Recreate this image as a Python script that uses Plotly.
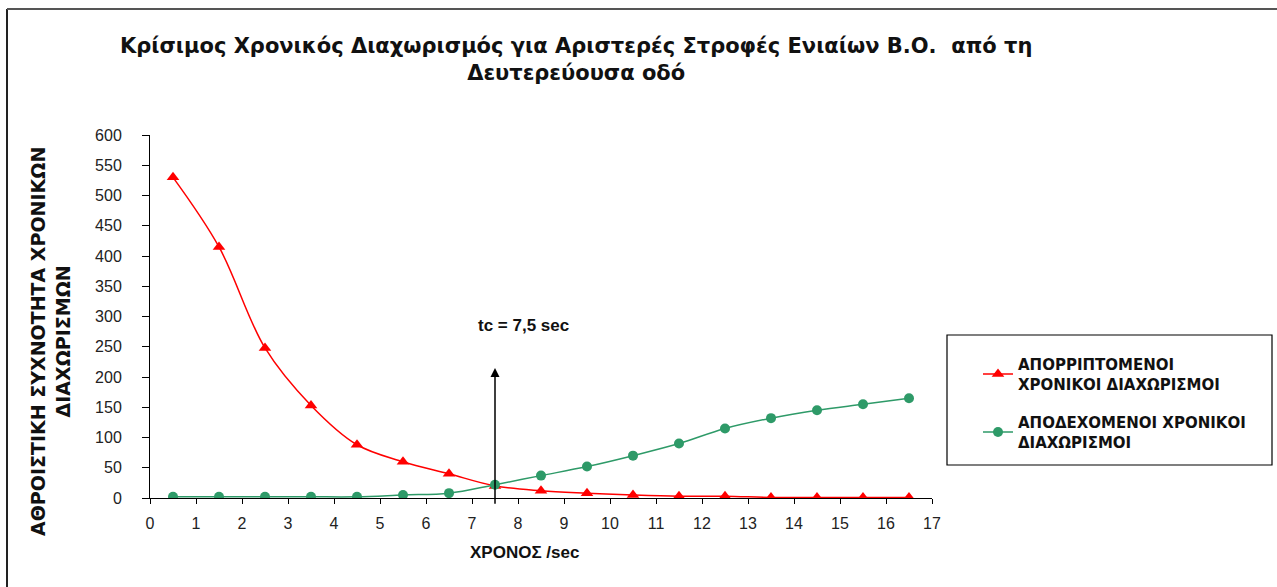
import plotly.graph_objects as go

x_time = [0.5, 1.5, 2.5, 3.5, 4.5, 5.5, 6.5, 7.5, 8.5, 9.5, 10.5, 11.5, 12.5, 13.5, 14.5, 15.5, 16.5]
rejected = [530, 415, 248, 153, 88, 60, 40, 20, 12, 8, 5, 3, 3, 1, 1, 1, 1]
accepted = [2, 2, 2, 2, 2, 5, 8, 22, 37, 52, 70, 90, 115, 132, 145, 155, 165]

name_rej = "ΑΠΟΡΡΙΠΤΟΜΕΝΟΙ<br>ΧΡΟΝΙΚΟΙ ΔΙΑΧΩΡΙΣΜΟΙ"
name_acc = "ΑΠΟΔΕΧΟΜΕΝΟΙ ΧΡΟΝΙΚΟΙ<br>ΔΙΑΧΩΡΙΣΜΟΙ"
title_text = "Κρίσιμος Χρονικός Διαχωρισμός για Αριστερές Στροφές Ενιαίων Β.Ο.  από τη<br>Δευτερεύουσα οδό"
y_title = "ΑΘΡΟΙΣΤΙΚΗ ΣΥΧΝΟΤΗΤΑ ΧΡΟΝΙΚΩΝ<br>ΔΙΑΧΩΡΙΣΜΩΝ"
x_title = "ΧΡΟΝΟΣ /sec"
tc_value = 7.5
tc_label = "tc = 7,5 sec"
arrow_top = 215

FONT = "Liberation Sans, Arial, sans-serif"
WIDE = "DejaVu Sans, Liberation Sans, sans-serif"
RED = "#ff0000"
GREEN = "#2e9a68"

fig = go.Figure()
fig.add_trace(go.Scatter(
    x=x_time, y=rejected, name=name_rej, mode="lines+markers", legendgroup="a",
    line=dict(color=RED, width=1.5, shape="spline"),
    marker=dict(symbol="triangle-up", size=11, color=RED),
))
fig.add_trace(go.Scatter(
    x=x_time, y=accepted, name=name_acc, mode="lines+markers", legendgroup="b",
    line=dict(color=GREEN, width=1.5, shape="spline"),
    marker=dict(symbol="circle", size=10, color=GREEN),
))

W, H = 1277, 587
L, R, T, B = 150, 345, 135, 89
pw, ph = W - L - R, H - T - B

def px(xp):
    return (xp - L) / pw

def py(yp):
    return 1 - (yp - T) / ph

fig.update_layout(
    width=W, height=H,
    margin=dict(l=L, r=R, t=T, b=B),
    paper_bgcolor="white", plot_bgcolor="white",
    font=dict(family=FONT, size=16, color="#222"),
    showlegend=True,
    legend=dict(
        x=px(978), y=py(348), xanchor="left", yanchor="top",
        borderwidth=0, bgcolor="rgba(0,0,0,0)",
        font=dict(family=WIDE, size=15, color="#111", weight="bold"),
        itemwidth=30, tracegroupgap=16,
        traceorder="grouped",
    ),
    xaxis=dict(
        range=[0, 17], dtick=1, tick0=0, showgrid=False, zeroline=False,
        showline=True, linecolor="black", linewidth=1,
        ticks="outside", ticklen=5, tickcolor="black", ticklabelstandoff=6,
        tickfont=dict(family=FONT, size=16, color="#222"),
    ),
    yaxis=dict(
        range=[0, 600], dtick=50, showgrid=False, zeroline=False,
        showline=True, linecolor="black", linewidth=1,
        ticks="outside", ticklen=7, tickcolor="black", ticklabelstandoff=17,
        tickfont=dict(family=FONT, size=16, color="#222"),
    ),
)

annotations = [
    dict(text="<b>" + title_text + "</b>", x=px(576), y=py(59), xref="paper", yref="paper",
         xanchor="center", yanchor="middle", showarrow=False,
         font=dict(family=WIDE, size=21, color="#111")),
    dict(text="<b>" + y_title + "</b>", x=px(50), y=py(342), xref="paper", yref="paper",
         xanchor="center", yanchor="middle", showarrow=False, textangle=-90,
         font=dict(family=WIDE, size=19, color="#111")),
    dict(text="<b>" + x_title + "</b>", x=px(524), y=py(552), xref="paper", yref="paper",
         xanchor="center", yanchor="middle", showarrow=False,
         font=dict(family=FONT, size=17, color="#111")),
    dict(text="<b>" + tc_label + "</b>", x=px(523), y=py(325), xref="paper", yref="paper",
         xanchor="center", yanchor="middle", showarrow=False,
         font=dict(family=FONT, size=17, color="#111")),
    dict(x=tc_value, y=arrow_top, ax=tc_value, ay=-12, xref="x", yref="y",
         axref="x", ayref="y", text="", showarrow=True,
         arrowhead=2, arrowsize=1.2, arrowwidth=1.5, arrowcolor="black"),
]
fig.update_layout(annotations=annotations)

fig.add_shape(type="rect", xref="paper", yref="paper",
              x0=px(947), x1=px(1272), y0=py(335), y1=py(465),
              line=dict(color="black", width=1.2), fillcolor="rgba(0,0,0,0)")
fig.add_shape(type="line", xref="paper", yref="paper",
              x0=px(7), x1=px(7), y0=py(9), y1=py(600), line=dict(color="#222", width=2))
fig.add_shape(type="line", xref="paper", yref="paper",
              x0=px(7), x1=px(1290), y0=py(9), y1=py(9), line=dict(color="#555", width=2))

fig.write_html("out.html", config={"displayModeBar": False},
               post_script="document.body.style.margin='0';document.body.style.overflow='hidden';")
